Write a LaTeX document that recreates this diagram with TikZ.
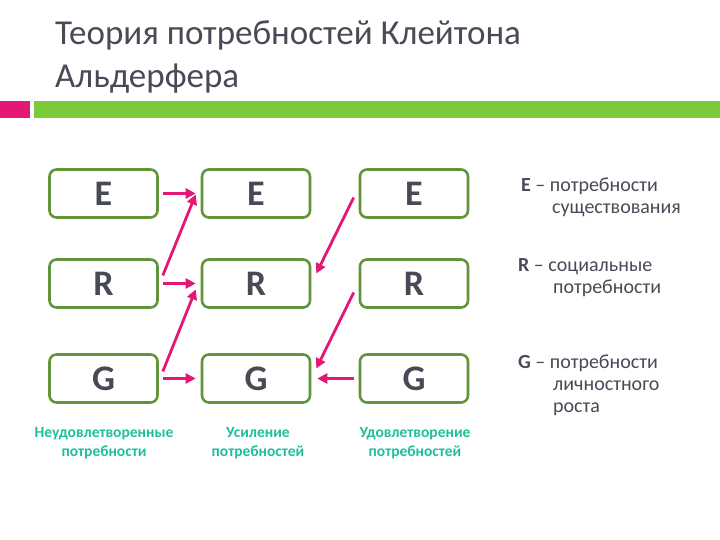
\documentclass[tikz,border=0pt]{standalone}
\usepackage{fontspec}
\setmainfont{Carlito}
\usetikzlibrary{arrows.meta,calc}
\definecolor{titlegray}{RGB}{72,74,86}
\definecolor{boxgreen}{RGB}{98,148,58}
\definecolor{barpink}{RGB}{228,22,118}
\definecolor{bargreen}{RGB}{122,202,58}
\definecolor{labteal}{RGB}{28,192,156}

\begin{document}
\begin{tikzpicture}[x=1pt,y=-1pt,
  box/.style={draw=boxgreen,line width=2.6pt,rounded corners=7pt,
    minimum width=108pt,minimum height=48pt,inner sep=0pt,
    font=\fontsize{36}{36}\selectfont\bfseries,text=titlegray},
  arr/.style={draw=barpink,line width=2.8pt,-{Triangle[length=10pt,width=10pt]}},
  lgd/.style={anchor=north west,align=left,inner sep=0pt,text=titlegray,
    font=\fontsize{20}{22}\selectfont},
  lab/.style={align=center,inner sep=0pt,text=labteal,
    font=\fontsize{15.5}{19}\selectfont\bfseries}]
\useasboundingbox (0,0) rectangle (720,540);

%% title and bars
\node[anchor=north west,align=left,inner sep=0pt,text=titlegray,
  font=\fontsize{35}{43}\selectfont] (title) at (55,20)
  {Теория потребностей Клейтона\\Альдерфера};
\fill[barpink] (0,101) rectangle (30,118);
\fill[bargreen] (34,101) rectangle (720,118);

%% boxes
\foreach \c/\x in {1/103.5,2/256,3/414}
  \foreach \r/\y in {E/193.5,R/283.5,G/378.5}
    \node[box] (\r\c) at (\x,\y) {\r};

%% arrows
\draw[arr,shorten <=4pt,shorten >=5pt] (E1.east) -- (E2.west);
\draw[arr,shorten <=4pt,shorten >=5pt] (R1.east) -- (R2.west);
\draw[arr,shorten <=4pt,shorten >=5pt] (G1.east) -- (G2.west);
\draw[arr] ([xshift=4pt,yshift=8pt]R1.east) -- ([xshift=-5pt,yshift=-1pt]E2.west);
\draw[arr] ([xshift=4pt,yshift=7pt]G1.east) -- ([xshift=-5pt,yshift=-6pt]R2.west);
\draw[arr] ([xshift=-5pt,yshift=-4pt]E3.west) -- ([xshift=5pt,yshift=10pt]R2.east);
\draw[arr] ([xshift=-5pt,yshift=-9pt]R3.west) -- ([xshift=5pt,yshift=10pt]G2.east);
\draw[arr,shorten <=5pt,shorten >=6pt] (G3.west) -- (G2.east);

%% legend
\node[lgd] (legE) at (521,178) {\textbf{E} – потребности\\\hspace*{31pt}существования};
\node[lgd] (legR) at (518,258) {\textbf{R} – социальные\\\hspace*{35pt}потребности};
\node[lgd] (legG) at (518,355) {\textbf{G} – потребности\\\hspace*{35pt}личностного\\\hspace*{35pt}роста};

%% bottom labels
\node[lab] (labA) at (104,443) {Неудовлетворенные\\потребности};
\node[lab] (labB) at (258,443) {Усиление\\потребностей};
\node[lab] (labC) at (415,443) {Удовлетворение\\потребностей};
\end{tikzpicture}
\end{document}
